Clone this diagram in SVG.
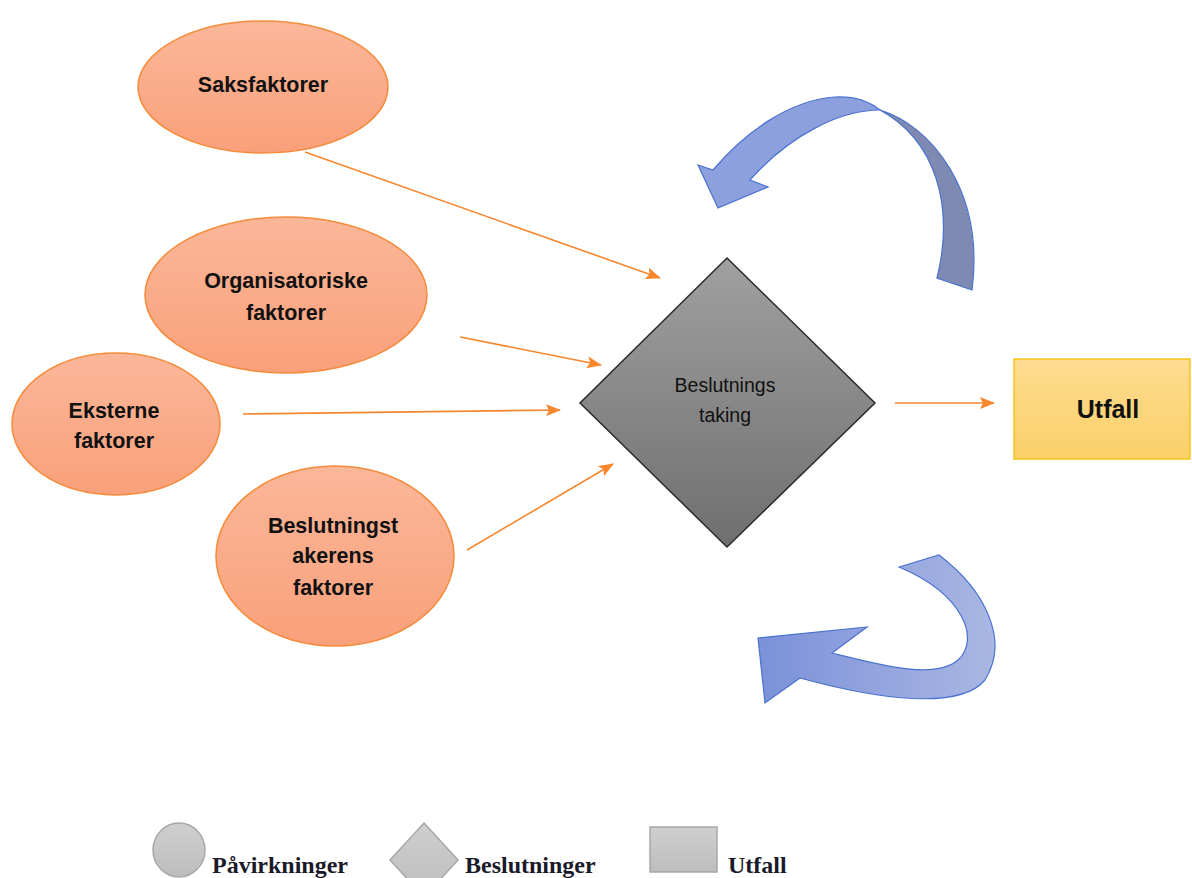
<svg xmlns="http://www.w3.org/2000/svg" width="1192" height="878" viewBox="0 0 1192 878">
<defs>
<linearGradient id="gOr" x1="0" y1="0" x2="0" y2="1"><stop offset="0" stop-color="#fbb799"/><stop offset="1" stop-color="#f9a07a"/></linearGradient>
<linearGradient id="gDia" x1="0" y1="0" x2="0" y2="1"><stop offset="0" stop-color="#a0a0a0"/><stop offset="1" stop-color="#6f6f6f"/></linearGradient>
<linearGradient id="gBox" x1="0" y1="0" x2="0" y2="1"><stop offset="0" stop-color="#fedc91"/><stop offset="1" stop-color="#fbd069"/></linearGradient>
<linearGradient id="gBlue" x1="0" y1="0" x2="1" y2="0"><stop offset="0" stop-color="#7b91d9"/><stop offset="1" stop-color="#aab7e3"/></linearGradient>
<linearGradient id="gLeg" x1="0" y1="0" x2="0" y2="1"><stop offset="0" stop-color="#cfcfcf"/><stop offset="1" stop-color="#bdbdbd"/></linearGradient>
<marker id="ah" markerUnits="userSpaceOnUse" markerWidth="15" markerHeight="12" refX="14" refY="6" orient="auto"><path d="M0,0 L15,6 L0,12 L3,6 Z" fill="#f7862d"/></marker>
<style>
.ell{fill:url(#gOr);stroke:#f58b3a;stroke-width:1.5}
.lbl{font-family:"Liberation Sans",Arial,sans-serif;font-weight:bold;font-size:21.5px;fill:#111;text-anchor:middle}
.con{stroke:#f7862d;stroke-width:1.6;fill:none;marker-end:url(#ah)}
.leg{fill:url(#gLeg);stroke:#a8a8a8;stroke-width:1.5}
.legt{font-family:"Liberation Serif","Times New Roman",serif;font-weight:bold;font-size:24px;fill:#1a1a2a}
.blu{stroke:#4a72d0;stroke-width:1.2}
</style>
</defs>
<rect width="1192" height="878" fill="#fff"/>

<g id="connectors">
<line class="con" x1="305" y1="152" x2="660" y2="278"/>
<line class="con" x1="460" y1="337" x2="601" y2="365"/>
<line class="con" x1="243" y1="414" x2="560" y2="410"/>
<line class="con" x1="467" y1="550" x2="613" y2="464"/>
<line class="con" x1="895" y1="403" x2="994" y2="403"/>
</g>

<g id="loop-top">
<path class="blu" fill="#8ba0dc" d="M698,165 L713,170 C745,132 790,100 835,97 C855,96 870,102 880,110 C840,110 790,135 750,180 L768,187 L718,208 Z"/>
<path class="blu" fill="#7e8ab1" d="M880,110 C930,125 985,190 972,290 L937,278 C955,205 935,140 880,110 Z"/>
</g>

<g id="loop-bottom">
<path class="blu" fill="url(#gBlue)" d="M939,555 C985,590 1010,640 985,680 C960,710 880,700 800,678 L765,703 L758,638 L867,627 L832,653 C880,665 935,680 958,660 C980,640 965,595 899,567 Z"/>
</g>

<g id="saksfaktorer">
<ellipse class="ell" cx="263" cy="87" rx="125" ry="66"/>
<text class="lbl" x="263" y="92">Saksfaktorer</text>
</g>

<g id="organisatoriske">
<ellipse class="ell" cx="286" cy="295" rx="141" ry="78"/>
<text class="lbl" x="286" y="288">Organisatoriske</text>
<text class="lbl" x="286" y="320">faktorer</text>
</g>

<g id="eksterne">
<ellipse class="ell" cx="116" cy="424" rx="104" ry="71"/>
<text class="lbl" x="114" y="418">Eksterne</text>
<text class="lbl" x="114" y="448">faktorer</text>
</g>

<g id="beslutningstakerens">
<ellipse class="ell" cx="335" cy="556" rx="119" ry="90"/>
<text class="lbl" x="333" y="533">Beslutningst</text>
<text class="lbl" x="333" y="563">akerens</text>
<text class="lbl" x="333" y="595">faktorer</text>
</g>

<g id="beslutningstaking">
<polygon points="727,258 875,403 727,547 580,403" fill="url(#gDia)" stroke="#2a2a2a" stroke-width="1.5"/>
<text class="lbl" style="font-weight:normal;font-size:19.5px" x="725" y="392">Beslutnings</text>
<text class="lbl" style="font-weight:normal;font-size:19.5px" x="725" y="422">taking</text>
</g>

<g id="utfall">
<rect x="1014" y="359" width="176" height="100" fill="url(#gBox)" stroke="#f5c518" stroke-width="1.5"/>
<text class="lbl" style="font-size:25px" x="1108" y="418">Utfall</text>
</g>

<g id="legend">
<ellipse class="leg" cx="179" cy="850" rx="26" ry="27"/>
<text class="legt" x="212" y="873">Påvirkninger</text>
<polygon class="leg" points="424,823 458,860 424,897 390,860"/>
<text class="legt" x="465" y="873">Beslutninger</text>
<rect class="leg" x="650" y="827" width="67" height="45"/>
<text class="legt" x="728" y="873">Utfall</text>
</g>
</svg>
